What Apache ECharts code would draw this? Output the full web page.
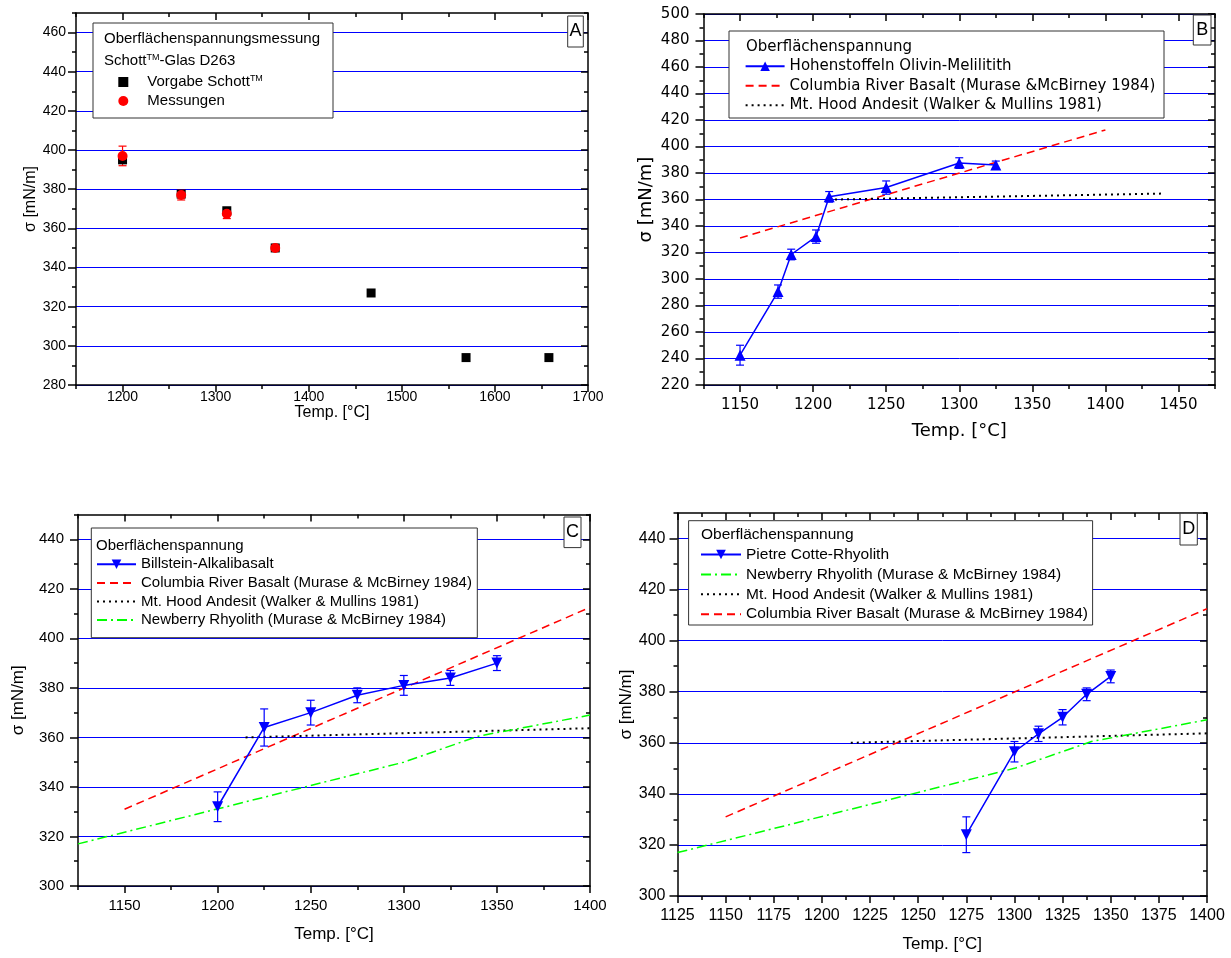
<!DOCTYPE html>
<html><head><meta charset="utf-8">
<script src="https://cdn.jsdelivr.net/npm/echarts@6/dist/echarts.min.js"></script>
<style>html,body{margin:0;padding:0;background:#fff}#c{width:1231px;height:958px}</style>
</head><body><div id="c"></div>
<script>
// ---------- Panel A (Schott glass D263) ----------
const aVorgabeTemp = [1200, 1263, 1312, 1364, 1467, 1569, 1658];
const aVorgabe     = [395, 377.5, 369, 350, 327, 294, 294];
const aMessTemp    = [1200, 1263, 1312, 1364];
const aMess        = [397, 377, 367.5, 350];
const aMessErr     = [5, 2.5, 2.5, 1.5];
// ---------- Panel B (Hohenstoffeln) ----------
const bTemp  = [1150, 1176, 1185, 1202, 1211, 1250, 1300, 1325];
const bSigma = [242.5, 290.5, 318.5, 332, 362, 369, 387.5, 386];
const bErr   = [7.5, 5, 4, 5, 4, 5, 4, 3];
// ---------- Panel C (Billstein) ----------
const cTemp  = [1200, 1225, 1250, 1275, 1300, 1325, 1350];
const cSigma = [332, 364, 370, 377, 381, 384, 390];
const cErr   = [6, 7.5, 5, 3, 4, 3, 3];
// ---------- Panel D (Pietre Cotte) ----------
const dTemp  = [1275, 1300, 1312.5, 1325, 1337.5, 1350];
const dSigma = [324, 356.5, 363.5, 370, 379, 386];
const dErr   = [7, 4, 3, 3, 2.5, 2.5];
// ---------- Literature curves ----------
const columbiaTemp = [1150, 1400];
const columbia     = [331, 412.5];
const hoodTemp     = [1215, 1440];
const hood         = [360, 364.5];
const newberryTemp = [1125, 1300, 1340, 1400];
const newberry     = [317, 350, 360.5, 369];
// ---------- Tick values ----------
const aXTicks = [1200, 1300, 1400, 1500, 1600, 1700];
const aXMinor = [1150, 1250, 1350, 1450, 1550, 1650];
const aYTicks = [280, 300, 320, 340, 360, 380, 400, 420, 440, 460];
const aYMinor = [290, 310, 330, 350, 370, 390, 410, 430, 450, 470];
const bXTicks = [1150, 1200, 1250, 1300, 1350, 1400, 1450];
const bXMinor = [1125, 1175, 1225, 1275, 1325, 1375, 1425, 1475];
const bYTicks = [220, 240, 260, 280, 300, 320, 340, 360, 380, 400, 420, 440, 460, 480, 500];
const bYMinor = [230, 250, 270, 290, 310, 330, 350, 370, 390, 410, 430, 450, 470, 490];
const cXTicks = [1150, 1200, 1250, 1300, 1350, 1400];
const cXMinor = [1125, 1175, 1225, 1275, 1325, 1375];
const cdYTicks = [300, 320, 340, 360, 380, 400, 420, 440];
const cdYMinor = [310, 330, 350, 370, 390, 410, 430, 450];
const dXTicks = [1125, 1150, 1175, 1200, 1225, 1250, 1275, 1300, 1325, 1350, 1375, 1400];
const dXMinor = [1137.5, 1162.5, 1187.5, 1212.5, 1237.5, 1262.5, 1287.5, 1312.5, 1337.5, 1362.5, 1387.5];

const ARIAL = 'Liberation Sans, Arial, sans-serif';
const DEJAVU = 'DejaVu Sans, sans-serif';
const BLUE = '#0000ff', RED = '#ff0000', GREEN = '#00ff00';

const grids = [], xAxes = [], yAxes = [], series = [];
const pairs = (xs, ys) => xs.map((x, i) => [x, ys[i]]);
const plain = v => String(v);

function addPanel(p) {
  const gi = grids.length;
  grids.push(Object.assign({containLabel: false}, p.grid));
  const xi = xAxes.length, yi = yAxes.length;
  const ls = {color: '#000', width: 1.5};
  const xb = {type: 'value', gridIndex: gi, min: p.x[0], max: p.x[1], splitLine: {show: false}, axisLabel: {show: false}, axisLine: {show: false, onZero: false}};
  xAxes.push(Object.assign({}, xb, {
    position: 'bottom', name: 'Temp. [°C]', nameLocation: 'middle', nameGap: p.xNameGap,
    nameTextStyle: {fontFamily: p.font, fontSize: p.titleFs, color: '#000'},
    axisLine: {show: true, onZero: false, lineStyle: ls},
    axisTick: {show: true, inside: false, length: 7, customValues: p.xMaj, lineStyle: ls},
    axisLabel: {show: true, customValues: p.xMaj, formatter: plain, margin: p.xLabelMargin, fontFamily: p.font, fontSize: p.fs, color: '#000'}
  }));
  xAxes.push(Object.assign({}, xb, {position: 'bottom', axisTick: {show: true, inside: false, length: 4, customValues: p.xMin, lineStyle: ls}}));
  xAxes.push(Object.assign({}, xb, {position: 'top', axisLine: {show: true, onZero: false, lineStyle: ls},
    axisTick: {show: true, inside: true, length: 7, customValues: p.xMaj, lineStyle: ls}}));
  xAxes.push(Object.assign({}, xb, {position: 'top', axisTick: {show: true, inside: true, length: 4, customValues: p.xMin, lineStyle: ls}}));
  const yb = {type: 'value', gridIndex: gi, min: p.y[0], max: p.y[1], interval: 20, splitLine: {show: false}, axisLabel: {show: false}, axisLine: {show: false, onZero: false}};
  yAxes.push(Object.assign({}, yb, {
    position: 'left', name: 'σ [mN/m]', nameLocation: 'middle', nameRotate: 90, nameGap: p.yNameGap,
    nameTextStyle: {fontFamily: p.font, fontSize: p.titleFs, color: '#000'},
    splitLine: {show: true, lineStyle: {color: BLUE, width: 1}},
    axisLine: {show: true, onZero: false, lineStyle: ls},
    axisTick: {show: true, inside: false, length: 8, customValues: p.yMaj, lineStyle: ls},
    axisLabel: {show: true, customValues: p.yMaj, formatter: plain, margin: p.yLabelMargin, fontFamily: p.font, fontSize: p.fs, color: '#000'}
  }));
  yAxes.push(Object.assign({}, yb, {position: 'left', axisTick: {show: true, inside: false, length: 4, customValues: p.yMin, lineStyle: ls}}));
  yAxes.push(Object.assign({}, yb, {position: 'right', axisLine: {show: true, onZero: false, lineStyle: ls},
    axisTick: {show: true, inside: true, length: 7, customValues: p.yMaj, lineStyle: ls}}));
  yAxes.push(Object.assign({}, yb, {position: 'right', axisTick: {show: true, inside: true, length: 4, customValues: p.yMin, lineStyle: ls}}));
  return {xAxisIndex: xi, yAxisIndex: yi};
}

function errBars(ax, temps, vals, errs, color, cap) {
  return Object.assign({
    type: 'custom', silent: true, z: 3,
    data: temps.map((t, i) => [t, vals[i] - errs[i], vals[i] + errs[i]]),
    renderItem(params, api) {
      const lo = api.coord([api.value(0), api.value(1)]);
      const hi = api.coord([api.value(0), api.value(2)]);
      const w = cap / 2, st = {stroke: color, lineWidth: 1.2, fill: null};
      return {type: 'group', children: [
        {type: 'line', shape: {x1: lo[0], y1: lo[1], x2: hi[0], y2: hi[1]}, style: st},
        {type: 'line', shape: {x1: lo[0] - w, y1: lo[1], x2: lo[0] + w, y2: lo[1]}, style: st},
        {type: 'line', shape: {x1: hi[0] - w, y1: hi[1], x2: hi[0] + w, y2: hi[1]}, style: st}
      ]};
    }
  }, ax);
}
function refLine(ax, name, xs, ys, color, dash, width) {
  return Object.assign({type: 'line', name, data: pairs(xs, ys), symbol: 'none', clip: true, z: 2,
    lineStyle: {color, width: width || 1.5, type: dash}, itemStyle: {color}}, ax);
}
function meas(ax, name, xs, ys, rot) {
  return Object.assign({type: 'line', name, data: pairs(xs, ys), symbol: 'triangle', symbolSize: 11, symbolRotate: rot,
    lineStyle: {color: BLUE, width: 1.5}, itemStyle: {color: BLUE, opacity: 1}, z: 4}, ax);
}

const COL_B = 'Columbia River Basalt (Murase &McBirney 1984)';
const COL = 'Columbia River Basalt (Murase & McBirney 1984)';
const HOOD = 'Mt. Hood Andesit (Walker & Mullins 1981)';
const NEW = 'Newberry Rhyolith (Murase & McBirney 1984)';
const DASH = [8, 5], DOT = [2, 4], DASHDOT = [10, 4, 2, 4];

// Panel A
const axA = addPanel({grid: {left: 76, top: 13, width: 512, height: 372}, x: [1150, 1700], y: [280, 470],
  xMaj: aXTicks, xMin: aXMinor, yMaj: aYTicks, yMin: aYMinor, font: ARIAL, fs: 14, titleFs: 16,
  xLabelMargin: 5, xNameGap: 18, yLabelMargin: 10, yNameGap: 36});
series.push(Object.assign({type: 'scatter', name: 'Vorgabe Schott™', data: pairs(aVorgabeTemp, aVorgabe), symbol: 'rect', symbolSize: 9, itemStyle: {color: '#000', opacity: 1}, z: 3}, axA));
series.push(errBars(axA, aMessTemp, aMess, aMessErr, RED, 8));
series.push(Object.assign({type: 'scatter', name: 'Messungen', data: pairs(aMessTemp, aMess), symbol: 'circle', symbolSize: 10, itemStyle: {color: RED, opacity: 1}, z: 4}, axA));

// Panel B
const axB = addPanel({grid: {left: 703.5, top: 14, width: 511.5, height: 371}, x: [1125, 1475], y: [220, 500],
  xMaj: bXTicks, xMin: bXMinor, yMaj: bYTicks, yMin: bYMinor, font: DEJAVU, fs: 15, titleFs: 18,
  xLabelMargin: 13, xNameGap: 37, yLabelMargin: 14, yNameGap: 48});
series.push(refLine(axB, COL_B, columbiaTemp, columbia, RED, DASH));
series.push(refLine(axB, HOOD, hoodTemp, hood, '#000', DOT, 2));
series.push(errBars(axB, bTemp, bSigma, bErr, BLUE, 8));
series.push(meas(axB, 'Hohenstoffeln Olivin-Melilitith', bTemp, bSigma, 0));

// Panel C
const axC = addPanel({grid: {left: 78, top: 514.5, width: 512, height: 371.5}, x: [1125, 1400], y: [300, 450],
  xMaj: cXTicks, xMin: cXMinor, yMaj: cdYTicks, yMin: cdYMinor, font: ARIAL, fs: 15, titleFs: 17,
  xLabelMargin: 12, xNameGap: 40, yLabelMargin: 14, yNameGap: 51});
series.push(refLine(axC, COL, columbiaTemp, columbia, RED, DASH));
series.push(refLine(axC, HOOD, hoodTemp, hood, '#000', DOT, 2));
series.push(refLine(axC, NEW, newberryTemp, newberry, GREEN, DASHDOT));
series.push(errBars(axC, cTemp, cSigma, cErr, BLUE, 8));
series.push(meas(axC, 'Billstein-Alkalibasalt', cTemp, cSigma, 180));

// Panel D
const axD = addPanel({grid: {left: 677.5, top: 513, width: 529.5, height: 383}, x: [1125, 1400], y: [300, 450],
  xMaj: dXTicks, xMin: dXMinor, yMaj: cdYTicks, yMin: cdYMinor, font: ARIAL, fs: 16, titleFs: 17,
  xLabelMargin: 12, xNameGap: 40, yLabelMargin: 12, yNameGap: 42});
series.push(refLine(axD, COL, columbiaTemp, columbia, RED, DASH));
series.push(refLine(axD, HOOD, hoodTemp, hood, '#000', DOT, 2));
series.push(refLine(axD, NEW, newberryTemp, newberry, GREEN, DASHDOT));
series.push(errBars(axD, dTemp, dSigma, dErr, BLUE, 8));
series.push(meas(axD, 'Pietre Cotte-Rhyolith', dTemp, dSigma, 180));

const supRich = (fs, font) => ({n: {fontSize: fs, fontFamily: font, color: '#000'}, s: {fontSize: 9, fontFamily: font, color: '#000', padding: [0, 0, 7, 0]}});
const lineOnly = name => ({name, itemStyle: {opacity: 0}});
function legend(left, top, data, font, fs, iw, ih, lh, gap, textPad) {
  return {left, top, orient: 'vertical', padding: 0, itemWidth: iw, itemHeight: ih, itemGap: gap, selectedMode: false, z: 10,
    data, textStyle: {fontFamily: font, fontSize: fs, lineHeight: lh, color: '#000', padding: textPad || 0, rich: supRich(fs, font)},
    formatter: n => n.indexOf('™') >= 0 ? '{n|' + n.replace('™', '') + '}{s|TM}' : n};
}
const legends = [
  legend(118.3, 74, ['Vorgabe Schott™', 'Messungen'], ARIAL, 15, 10, 10, 15, 4, [0, 0, 0, 14]),
  legend(744.6, 58.7, ['Hohenstoffeln Olivin-Melilitith', lineOnly(COL_B), lineOnly(HOOD)], DEJAVU, 15, 39, 12, 14, 4.5),
  legend(96, 556.8, ['Billstein-Alkalibasalt', lineOnly(COL), lineOnly(HOOD), lineOnly(NEW)], ARIAL, 15, 39, 12, 15, 3.6),
  legend(700, 546.5, ['Pietre Cotte-Rhyolith', lineOnly(NEW), lineOnly(HOOD), lineOnly(COL)], ARIAL, 15.5, 40, 12, 15, 3.9)
];

function box(x, y, w, h, z) {
  return {type: 'rect', z: z || 5, shape: {x, y, width: w, height: h}, style: {fill: '#fff', stroke: '#333', lineWidth: 1}};
}
function txt(x, y, text, font, fs, extra) {
  return {type: 'text', z: 11, x, y, style: Object.assign({text, fontFamily: font, fontSize: fs, fill: '#000', verticalAlign: 'middle'}, extra || {})};
}
function letter(x, y, w, h, L) {
  return [box(x, y, w, h, 6), {type: 'text', z: 12, x: x + w / 2, y: y + h / 2, style: {text: L, fontFamily: ARIAL, fontSize: 18, fill: '#000', align: 'center', verticalAlign: 'middle'}}];
}
const graphic = [
  box(93, 23, 240, 95),
  txt(104, 39.3, 'Oberflächenspannungsmessung', ARIAL, 15),
  txt(104, 60.7, '{n|Schott}{s|TM}{n|-Glas D263}', ARIAL, 15, {rich: supRich(15, ARIAL)}),
  box(729, 31, 435, 87),
  txt(746, 46.7, 'Oberflächenspannung', DEJAVU, 15),
  box(91.3, 528, 386, 109.7),
  txt(96, 545.7, 'Oberflächenspannung', ARIAL, 15),
  box(688.6, 520.7, 404, 104.3),
  txt(701, 535, 'Oberflächenspannung', ARIAL, 15.5),
  ...letter(567.7, 16, 15.6, 31, 'A'),
  ...letter(1193.3, 15, 17.7, 30, 'B'),
  ...letter(564, 517, 17, 30.6, 'C'),
  ...letter(1180, 513.3, 17.3, 31.7, 'D')
];

const chart = echarts.init(document.getElementById('c'), null, {renderer: 'canvas'});
chart.setOption({
  backgroundColor: '#fff', animation: false,
  grid: grids, xAxis: xAxes, yAxis: yAxes, series, legend: legends, graphic: {elements: graphic}
});
</script>
</body></html>
